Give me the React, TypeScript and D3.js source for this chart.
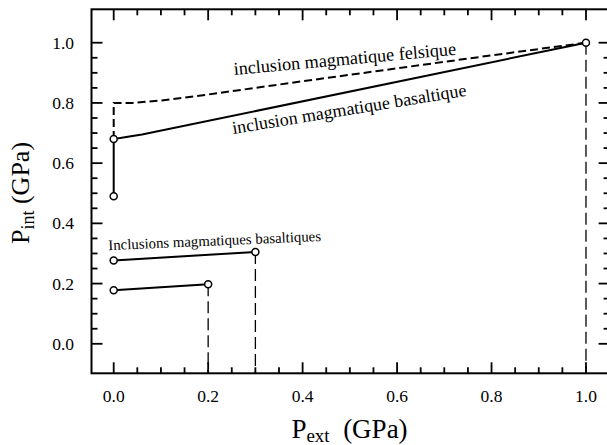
import { useMemo } from 'react';
import * as d3 from 'd3';

const W = 607;
const H = 445;
const FONT = { fontFamily: "'Liberation Serif'" };

// enveloppes P_int vs P_ext (GPa)
const felsicX = [0, 0, 0.04, 0.1, 0.2, 0.4, 0.6, 0.8, 1.0];
const felsicY = [0.68, 0.8, 0.8, 0.808, 0.828, 0.872, 0.915, 0.958, 1.0];
const basaltX = [0, 0, 0.03, 0.06, 1.0];
const basaltY = [0.49, 0.68, 0.688, 0.695, 1.0];
const lowA = [[0, 0.277], [0.3, 0.305]];
const lowB = [[0, 0.178], [0.2, 0.198]];
const circles = [[0, 0.49], [0, 0.68], [1.0, 1.0], [0, 0.277], [0.3, 0.305], [0, 0.178], [0.2, 0.198]];
const drops = [0.2, 0.3, 1.0];
const dropTops = [0.198, 0.305, 1.0];

const majorTicks = [0, 0.2, 0.4, 0.6, 0.8, 1.0];
const minorTicks = d3.range(0, 21).map((i) => i * 0.05);

const labels = [
  { text: 'inclusion magmatique felsique', x: 0.255, y: 0.893, rot: -5.2, size: 18.2 },
  { text: 'inclusion magmatique basaltique', x: 0.253, y: 0.697, rot: -9.3, size: 18 },
  { text: 'Inclusions magmatiques basaltiques', x: -0.011, y: 0.311, rot: -2.5, size: 14.8 }
];

export default function App() {
  const x = useMemo(() => d3.scaleLinear().domain([-0.047, 1.05]).range([91.5, 609.6]), []);
  const y = useMemo(() => d3.scaleLinear().domain([-0.098, 1.111]).range([373.3, 9.3]), []);
  const line = d3.line<number[]>().x((d) => x(d[0])).y((d) => y(d[1]));

  const [x0, x1] = x.range();
  const [y0, y1] = y.range();
  const felsic = felsicX.map((v, i) => [v, felsicY[i]]);
  const basalt = basaltX.map((v, i) => [v, basaltY[i]]);
  const isMajor = (t: number) => majorTicks.some((m) => Math.abs(m - t) < 1e-6);

  return (
    <div style={{ position: 'fixed', left: 0, top: 0 }}>
      <svg width={W} height={H} style={{ display: 'block', background: '#fff' }}>
        {/* cadre */}
        <rect x={x0} y={y1} width={x1 - x0} height={y0 - y1} fill="none" stroke="#000" strokeWidth={2} />

        {minorTicks.map((t) => {
          const len = isMajor(t) ? 11 : 6;
          return (
            <g key={t} stroke="#000" strokeWidth={1.8}>
              <line x1={x(t)} x2={x(t)} y1={y0} y2={y0 - len} />
              <line x1={x(t)} x2={x(t)} y1={y1} y2={y1 + len} />
              <line x1={x0} x2={x0 + len} y1={y(t)} y2={y(t)} />
              <line x1={x1} x2={x1 - len} y1={y(t)} y2={y(t)} />
            </g>
          );
        })}

        {majorTicks.map((t) => (
          <g key={'l' + t}>
            <text x={x(t)} y={y0 + 29} textAnchor="middle" fontSize={17.5} style={FONT}>{t.toFixed(1)}</text>
            <text x={74} y={y(t)} dy="0.34em" textAnchor="end" fontSize={17.5} style={FONT}>{t.toFixed(1)}</text>
          </g>
        ))}

        {drops.map((d, i) => (
          <line key={'d' + d} x1={x(d)} x2={x(d)} y1={y(dropTops[i])} y2={y0}
            stroke="#000" strokeWidth={1.3} strokeDasharray="12,5" />
        ))}

        <path d={line(felsic) || ''} fill="none" stroke="#000" strokeWidth={2} strokeDasharray="8,4" />
        <path d={line(basalt) || ''} fill="none" stroke="#000" strokeWidth={2} />
        <path d={line(lowA) || ''} fill="none" stroke="#000" strokeWidth={2} />
        <path d={line(lowB) || ''} fill="none" stroke="#000" strokeWidth={2} />

        {circles.map((c, i) => (
          <circle key={'c' + i} cx={x(c[0])} cy={y(c[1])} r={3.5} fill="#fff" stroke="#000" strokeWidth={1.5} />
        ))}

        {labels.map((l) => (
          <text key={l.text} transform={`translate(${x(l.x)},${y(l.y)}) rotate(${l.rot})`} fontSize={l.size} style={FONT}>
            {l.text}
          </text>
        ))}

        <text x={349.5} y={438} textAnchor="middle" fontSize={27} style={FONT}>
          P<tspan fontSize={19} dy={4}>ext</tspan><tspan dy={-4}>{'\u00a0\u00a0(GPa)'}</tspan>
        </text>
        <text transform="translate(29,193) rotate(-90)" textAnchor="middle" fontSize={26} style={FONT}>
          P<tspan fontSize={18} dy={5}>int</tspan><tspan dy={-5}>{'\u00a0(GPa)'}</tspan>
        </text>
      </svg>
    </div>
  );
}
